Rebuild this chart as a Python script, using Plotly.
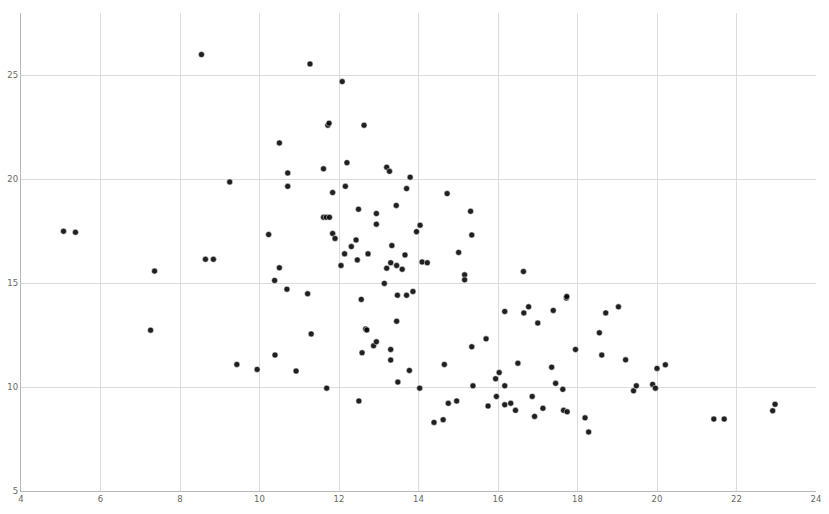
import plotly.graph_objects as go

# scatter points
xValues = [
    5.07, 5.37, 7.36, 7.26, 8.54, 8.64, 8.84, 9.25, 9.43, 9.94,
    10.23, 10.38, 10.39, 10.5, 10.5, 10.69, 10.71, 10.71, 10.92, 11.21,
    11.27, 11.3, 11.61, 11.61, 11.68, 11.69, 11.72, 11.75, 11.76, 11.84,
    11.84, 11.9, 12.05, 12.08, 12.14, 12.16, 12.2, 12.31, 12.43, 12.46,
    12.49, 12.5, 12.56, 12.58, 12.63, 12.67, 12.7, 12.73, 12.87, 12.94,
    12.94, 12.94, 13.14, 13.2, 13.2, 13.27, 13.3, 13.3, 13.3, 13.33,
    13.44, 13.45, 13.45, 13.47, 13.48, 13.59, 13.66, 13.7, 13.7, 13.77,
    13.79, 13.86, 13.95, 14.03, 14.04, 14.09, 14.22, 14.39, 14.62, 14.65,
    14.72, 14.75, 14.96, 15.01, 15.16, 15.16, 15.31, 15.34, 15.34, 15.37,
    15.7, 15.75, 15.94, 15.96, 16.03, 16.17, 16.17, 16.17, 16.32, 16.44,
    16.5, 16.64, 16.65, 16.77, 16.86, 16.92, 17.0, 17.13, 17.35, 17.39,
    17.45, 17.63, 17.65, 17.72, 17.73, 17.74, 17.95, 18.19, 18.28, 18.55,
    18.61, 18.71, 19.03, 19.21, 19.41, 19.48, 19.89, 19.96, 20.0, 20.21,
    21.43, 21.69, 22.91, 22.97,
]
yValues = [
    17.5, 17.45, 15.58, 12.74, 26.0, 16.15, 16.15, 19.87, 11.09, 10.85,
    17.34, 15.13, 11.54, 21.75, 15.74, 14.71, 20.3, 19.66, 10.77, 14.49,
    25.55, 12.56, 20.5, 18.17, 18.17, 9.95, 22.6, 22.7, 18.17, 19.36,
    17.39, 17.15, 15.85, 24.7, 16.41, 19.66, 20.8, 16.76, 17.08, 16.12,
    18.56, 9.33, 14.22, 11.65, 22.6, 12.8, 12.75, 16.41, 11.99, 18.35,
    17.84, 12.18, 14.99, 20.58, 15.72, 20.38, 15.98, 11.81, 11.3, 16.81,
    18.74, 15.85, 13.17, 14.42, 10.24, 15.67, 16.36, 19.55, 14.42, 10.8,
    20.1, 14.6, 17.48, 9.95, 17.79, 16.02, 15.98, 8.3, 8.43, 11.09,
    19.31, 9.22, 9.33, 16.48, 15.4, 15.16, 18.46, 17.32, 11.94, 10.06,
    12.32, 9.09, 10.4, 9.55, 10.7, 13.64, 10.06, 9.15, 9.22, 8.88,
    11.15, 15.56, 13.57, 13.86, 9.55, 8.59, 13.08, 8.98, 10.96, 13.69,
    10.18, 9.89, 8.88, 14.29, 14.36, 8.81, 11.81, 8.52, 7.84, 12.61,
    11.54, 13.57, 13.86, 11.31, 9.82, 10.06, 10.13, 9.95, 10.9, 11.07,
    8.46, 8.46, 8.86, 9.17,
]
xTicks = [4, 6, 8, 10, 12, 14, 16, 18, 20, 22, 24]
yTicks = [5, 10, 15, 20, 25]

fig = go.Figure()
fig.add_trace(go.Scatter(
    x = xValues, y = yValues, mode = "markers",
    marker = dict(color = "rgba(8,8,8,0.9)", size = 6, line = dict(color = "white", width = 0.5)),
    showlegend = False,
))
fig.update_layout(
    width = 829, height = 514,
    margin = dict(l = 21, r = 13, t = 13, b = 23, autoexpand = False),
    paper_bgcolor = "white", plot_bgcolor = "white",
    font = dict(family = "DejaVu Sans", size = 8.5, color = "#666666"),
)
fig.update_xaxes(
    range = [4, 24], tickvals = xTicks, showgrid = True, gridcolor = "#dcdcdc", gridwidth = 1,
    showline = True, linecolor = "#b8b8b8", linewidth = 1.2, zeroline = False, ticks = "", ticklen = 0,
    automargin = False,
)
fig.update_yaxes(
    range = [5, 28], tickvals = yTicks, showgrid = True, gridcolor = "#dcdcdc", gridwidth = 1,
    showline = True, linecolor = "#b8b8b8", linewidth = 1.2, zeroline = False, ticks = "", ticklen = 0,
    automargin = False,
)
# drop the page's default body margin so the figure sits at the window origin
fig.write_html("out.html", config = {"displayModeBar": False}, post_script = "document.body.style.margin = '0';")
